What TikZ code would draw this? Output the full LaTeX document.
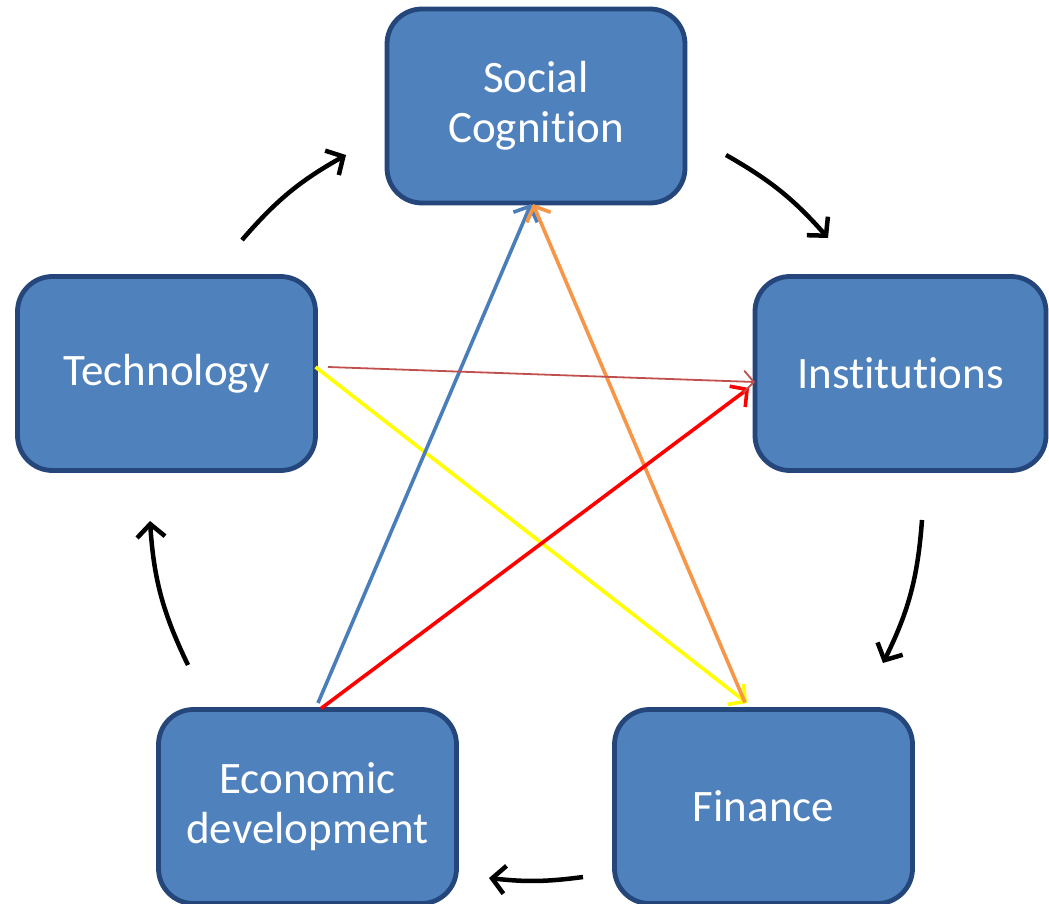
\documentclass[tikz,border=0pt]{standalone}
\usepackage{fontspec}
\setmainfont{Carlito}[Ligatures=NoCommon]
\usetikzlibrary{arrows.meta}
\definecolor{boxfill}{RGB}{79,129,189}
\definecolor{boxline}{RGB}{36,70,122}
\definecolor{lblue}{RGB}{74,126,187}
\definecolor{lorange}{RGB}{247,150,70}
\definecolor{ldred}{RGB}{192,80,77}
\definecolor{lred}{RGB}{255,0,0}
\definecolor{lyellow}{RGB}{255,255,0}
\begin{document}
\begin{tikzpicture}[x=1pt,y=-1pt,
  box/.style={draw=boxline, fill=boxfill, line width=4.8pt, rounded corners=35pt,
    minimum width=298pt, minimum height=194pt, outer sep=0pt, text=white,
    align=center, font=\fontsize{45}{50}\selectfont},
  cyc/.style={draw=black, line width=4.5pt, -{Straight Barb[length=13pt,width=28pt]}},
  cross/.style={line width=3.6pt, -{Straight Barb[length=12pt,width=26pt]}}]
\useasboundingbox (0,0) rectangle (1049,904);
\node[box] (social) at (536,106) {Social\\Cognition};
\node[box] (tech) at (166.5,373.5) {Technology};
\node[box, minimum width=291pt] (inst) at (900.5,373.5) {Institutions};
\node[box] (econ) at (307.5,806.5) {Economic\\development};
\node[box] (fin) at (763.5,806.5) {Finance};
% cycle arrows
\coordinate (a1) at (242,240); \coordinate (b1) at (346,155);
\coordinate (a2) at (726,155); \coordinate (b2) at (828,238);
\coordinate (a3) at (922,520); \coordinate (b3) at (883,663);
\coordinate (a4) at (583,877); \coordinate (b4) at (489,878);
\coordinate (a5) at (188,665); \coordinate (b5) at (150,521);
\draw[cyc] (a1) to[bend left=10] (b1);
\draw[cyc] (a2) to[bend left=9.5] (b2);
\draw[cyc] (a3) to[bend left=11] (b3);
\draw[cyc] (a4) to[bend left=7] (b4);
\draw[cyc] (a5) to[bend left=11] (b5);
% cross arrows
\draw[cross, draw=lyellow] ([yshift=6.5pt]tech.east) -- ([xshift=-16.5pt,yshift=6.5pt]fin.north);
\draw[cross, draw=lblue] ([xshift=10.5pt,yshift=6.5pt]econ.north) -- ([xshift=-5pt,yshift=-1pt]social.south);
\draw[cross, draw=lorange] ([xshift=-18.5pt,yshift=7pt]fin.north) -- ([xshift=-3pt,yshift=-1pt]social.south);
\draw[cross, draw=lred] ([xshift=13.5pt,yshift=1pt]econ.north) -- ([xshift=-6pt,yshift=-14.5pt]inst.west);
\draw[line width=1.8pt, draw=ldred, -{Straight Barb[length=10pt,width=22pt]}] ([xshift=12.5pt,yshift=6.5pt]tech.east) -- ([yshift=-8.5pt]inst.west);
\end{tikzpicture}
\end{document}
